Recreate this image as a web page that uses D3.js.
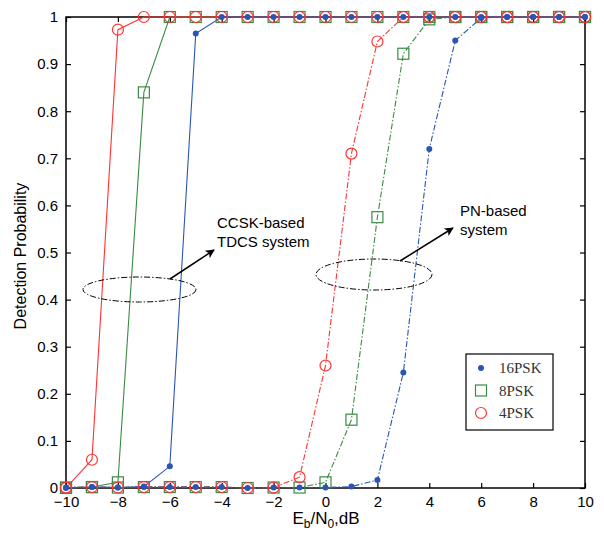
<!DOCTYPE html>
<html><head><meta charset="utf-8">
<script src="https://cdn.jsdelivr.net/npm/d3@7"></script>
<style>body{margin:0;background:#fff}</style>
</head><body>
<svg id="c" width="604" height="536"></svg>
<script>
const xs = [-10,-9,-8,-7,-6,-5,-4,-3,-2,-1,0,1,2,3,4,5,6,7,8,9,10];
// CCSK-based TDCS (solid)
const ccsk16 = [0,0.002,0.001,0.003,0.046,0.965,1,1,1,1,1,1,1,1,1,1,1,1,1,1,1];
const ccsk8  = [0,0.002,0.012,0.84,1,1,1,1,1,1,1,1,1,1,1,1,1,1,1,1,1];
const ccsk4  = [0,0.06,0.973,1,1,1,1,1,1,1,1,1,1,1,1,1,1,1,1,1,1];
// PN-based system (dash-dot)
const pn16 = [0.001,0.002,0.001,0.002,0.002,0.002,0.002,0,0.001,0.001,0.001,0.003,0.017,0.245,0.72,0.95,0.998,1,1,1,1];
const pn8  = [0.001,0.002,0.001,0.002,0.002,0.002,0.002,0,0.001,0.001,0.012,0.145,0.575,0.922,0.995,1,1,1,1,1,1];
const pn4  = [0.001,0.002,0.001,0.002,0.002,0.002,0.002,0,0.001,0.023,0.26,0.71,0.948,1,1,1,1,1,1,1,1];
const xTicks = [-10,-8,-6,-4,-2,0,2,4,6,8,10];
const yTicks = [0,0.1,0.2,0.3,0.4,0.5,0.6,0.7,0.8,0.9,1];
const legendLabels = ["16PSK","8PSK","4PSK"];

const colors = {b:"#2a55b5", g:"#3a8a45", r:"#ff3333"};
const svg = d3.select("#c");
const L=66, R=585, T=17, B=488;
const x = d3.scaleLinear().domain([-10,10]).range([L,R]);
const y = d3.scaleLinear().domain([0,1]).range([B,T]);
const font = "Arial, 'Liberation Sans', sans-serif";

// axes
const gx = svg.append("g").attr("transform",`translate(0,${B})`)
  .call(d3.axisBottom(x).tickValues(xTicks).tickSize(-5).tickPadding(8).tickFormat(d3.format("d")));
const gxt = svg.append("g").attr("transform",`translate(0,${T})`)
  .call(d3.axisTop(x).tickValues(xTicks).tickSize(-5).tickFormat(""));
const gy = svg.append("g").attr("transform",`translate(${L},0)`)
  .call(d3.axisLeft(y).tickValues(yTicks).tickSize(-5).tickPadding(8).tickFormat(d=>d===0?"0":d===1?"1":d3.format(".1f")(d)));
const gyr = svg.append("g").attr("transform",`translate(${R},0)`)
  .call(d3.axisRight(y).tickValues(yTicks).tickSize(-5).tickFormat(""));
[gx,gxt,gy,gyr].forEach(g=>{
  g.select(".domain").remove();
  g.selectAll(".tick line").attr("stroke","#000").attr("stroke-width",1.2);
  g.selectAll("text").attr("font-family",font).attr("font-size",15).attr("fill","#000");
});
svg.append("rect").attr("x",L).attr("y",T).attr("width",R-L).attr("height",B-T)
  .attr("fill","none").attr("stroke","#000").attr("stroke-width",1.5);

// axis labels
const xl = svg.append("text").attr("x",326).attr("y",524).attr("text-anchor","middle")
  .attr("font-family",font).attr("font-size",17);
xl.append("tspan").text("E");
xl.append("tspan").attr("font-size",12).attr("dy",4).text("b");
xl.append("tspan").attr("dy",-4).text("/N");
xl.append("tspan").attr("font-size",12).attr("dy",4).text("0");
xl.append("tspan").attr("dy",-4).text(",dB");
svg.append("text").attr("transform","translate(26,256) rotate(-90)").attr("text-anchor","middle")
  .attr("font-family",font).attr("font-size",16).text("Detection Probability");

const line = d3.line().x((d,i)=>x(xs[i])).y(d=>y(d));
const series = [
  {v:pn8, c:colors.g, m:"s", dash:"6,2,1.5,2"},
  {v:pn4, c:colors.r, m:"o", dash:"6,2,1.5,2"},
  {v:pn16, c:colors.b, m:"d", dash:"6,2,1.5,2"},
  {v:ccsk8, c:colors.g, m:"s", dash:null},
  {v:ccsk4, c:colors.r, m:"o", dash:null},
  {v:ccsk16, c:colors.b, m:"d", dash:null},
];
series.forEach(s=>{
  svg.append("path").datum(s.v).attr("d",line).attr("fill","none")
    .attr("stroke",s.c).attr("stroke-width",1.1).attr("stroke-dasharray",s.dash);
});
function marker(g,m,c,px,py){
  if(m==="s") g.append("rect").attr("x",px-5.5).attr("y",py-5.5).attr("width",11).attr("height",11)
      .attr("fill","none").attr("stroke",c).attr("stroke-width",1.2);
  else if(m==="o") g.append("circle").attr("cx",px).attr("cy",py).attr("r",5.5)
      .attr("fill","none").attr("stroke",c).attr("stroke-width",1.2);
  else g.append("circle").attr("cx",px).attr("cy",py).attr("r",3).attr("fill",c);
}
const mg = svg.append("g");
["s","o","d"].forEach(m=>{
  series.filter(s=>s.m===m).forEach(s=>{
    s.v.forEach((v,i)=>marker(mg,s.m,s.c,x(xs[i]),y(v)));
  });
});

// annotations
svg.append("defs").append("marker").attr("id","ah").attr("viewBox","0 0 10 10")
  .attr("refX",9).attr("refY",5).attr("markerWidth",12).attr("markerHeight",9)
  .attr("markerUnits","userSpaceOnUse").attr("orient","auto")
  .append("path").attr("d","M0,0 L10,5 L0,10 L2.5,5 Z").attr("fill","#000");
svg.append("ellipse").attr("cx",139.5).attr("cy",289.5).attr("rx",56.5).attr("ry",12.5)
  .attr("fill","none").attr("stroke","#000").attr("stroke-width",1).attr("stroke-dasharray","6,2,1.5,2");
svg.append("ellipse").attr("cx",374).attr("cy",274.5).attr("rx",58).attr("ry",15.5)
  .attr("fill","none").attr("stroke","#000").attr("stroke-width",1).attr("stroke-dasharray","6,2,1.5,2");
svg.append("line").attr("x1",170).attr("y1",279).attr("x2",214).attr("y2",250)
  .attr("stroke","#000").attr("stroke-width",1.5).attr("marker-end","url(#ah)");
svg.append("line").attr("x1",400).attr("y1",261).attr("x2",453).attr("y2",228)
  .attr("stroke","#000").attr("stroke-width",1.5).attr("marker-end","url(#ah)");
const ann = [["CCSK-based",217,228],["TDCS system",217,247],["PN-based",460,216],["system",460,235]];
ann.forEach(a=>svg.append("text").attr("x",a[1]).attr("y",a[2]).attr("font-family",font)
  .attr("font-size",15).text(a[0]));

// legend
const lg = svg.append("g");
lg.append("rect").attr("x",466).attr("y",354).attr("width",87).attr("height",76)
  .attr("fill","#fff").attr("stroke","#000").attr("stroke-width",1.2);
const lm = [["d",colors.b],["s",colors.g],["o",colors.r]];
legendLabels.forEach((t,i)=>{
  const yy = 368 + i*22.5;
  marker(lg,lm[i][0],lm[i][1],481,yy);
  lg.append("text").attr("x",499).attr("y",yy+5).attr("font-family","'Liberation Serif', serif")
    .attr("font-size",15).attr("fill","#333").text(t);
});
</script>
</body></html>
